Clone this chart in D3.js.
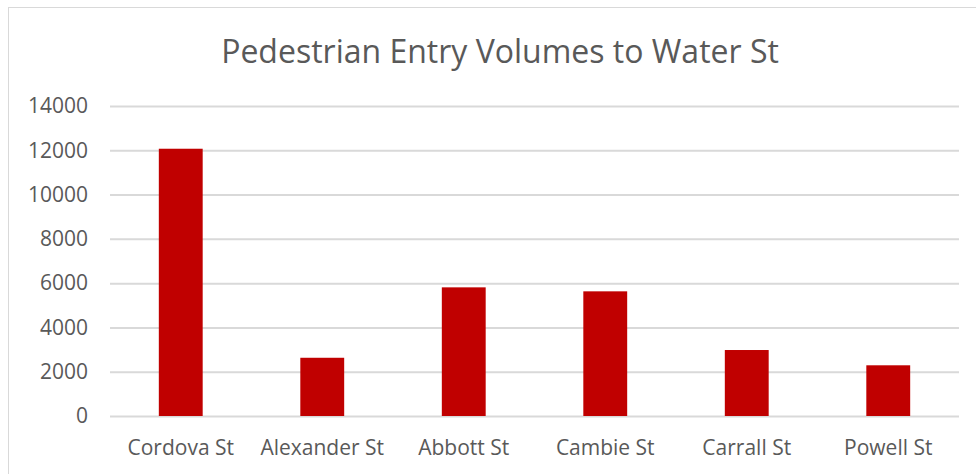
<!DOCTYPE html>
<html lang="en">
<head>
    <meta charset="UTF-8">
    <title>Pedestrian Entry Volumes to Water St</title>
    <style>
        html, body { margin: 0; padding: 0; background: #fff; }
        text { font-family: "Open Sans", sans-serif; fill: #595959; }
    </style>
</head>
<body>

<div id="chart"></div>

<script src="https://d3js.org/d3.v7.min.js"></script>

<script>
    // Chart data
    var streets = ["Cordova St", "Alexander St", "Abbott St", "Cambie St", "Carrall St", "Powell St"];
    var volumes = [12070, 2630, 5810, 5630, 2980, 2290];
    var yTicks = [0, 2000, 4000, 6000, 8000, 10000, 12000, 14000];
    var title = "Pedestrian Entry Volumes to Water St";

    var vp = {width: 976, height: 474};
    var margin = {top: 106, right: 17, bottom: 58, left: 110};

    var svg = d3.select("#chart").append("svg")
        .attr("width", vp.width)
        .attr("height", vp.height);

    // Chart area frame (only left and top edge visible in the shot)
    svg.append("rect")
        .attr("x", 8.5).attr("y", 7.5)
        .attr("width", vp.width).attr("height", vp.height)
        .attr("fill", "none")
        .attr("stroke", "#d9d9d9");

    var x = d3.scaleBand()
        .domain(streets)
        .range([margin.left, vp.width - margin.right])
        .paddingInner(0.69)
        .paddingOuter(0.345);

    var y = d3.scaleLinear()
        .domain([0, 14000])
        .range([vp.height - margin.bottom, margin.top]);

    // Gridlines and y labels
    var yAxis = svg.append("g")
        .attr("transform", "translate(" + margin.left + ",0)")
        .call(d3.axisLeft(y).tickValues(yTicks).tickFormat(d3.format("d"))
            .tickSize(-(vp.width - margin.left - margin.right)).tickPadding(22));
    yAxis.select(".domain").remove();
    yAxis.selectAll(".tick line").attr("stroke", "#d9d9d9").attr("stroke-width", 2);
    yAxis.selectAll(".tick text")
        .attr("font-size", 21)
        .attr("font-family", "Open Sans, sans-serif")
        .attr("fill", "#595959");

    // Bars
    svg.append("g").selectAll("rect")
        .data(streets)
        .enter()
        .append("rect")
        .attr("x", d => x(d))
        .attr("y", (d, i) => y(volumes[i]))
        .attr("width", x.bandwidth())
        .attr("height", (d, i) => y(0) - y(volumes[i]))
        .attr("fill", "#c00000");

    // Category labels
    var xAxis = svg.append("g")
        .attr("transform", "translate(0," + y(0) + ")")
        .call(d3.axisBottom(x).tickSize(0).tickPadding(24));
    xAxis.select(".domain").remove();
    xAxis.selectAll(".tick text")
        .attr("font-size", 21)
        .attr("font-family", "Open Sans, sans-serif")
        .attr("fill", "#595959");

    // Title
    svg.append("text")
        .attr("x", 500)
        .attr("y", 63)
        .attr("text-anchor", "middle")
        .attr("font-size", 32)
        .text(title);
</script>

</body>
</html>
